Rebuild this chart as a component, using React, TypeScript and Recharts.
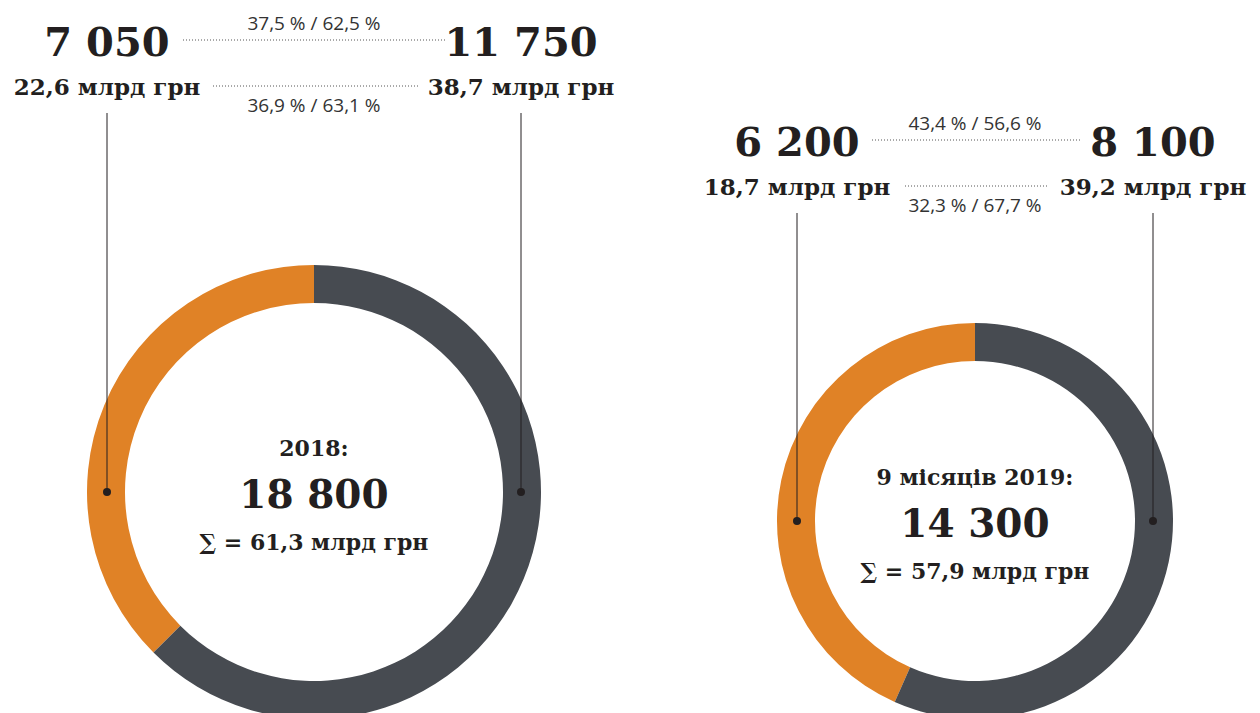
import React from 'react';
import { PieChart, Pie, Cell } from 'recharts';

const segments = ['part1', 'part2'];
const colors = ['#E08226', '#474B51'];
const periodLabels = ['2018:', '9 місяців 2019:'];
const counts2018 = [7050, 11750];
const counts2019 = [6200, 8100];
const amounts2018 = [22.6, 38.7];
const amounts2019 = [18.7, 39.2];
const amountUnit = 'млрд грн';

const W = 1260;
const H = 713;

const charts = [
  { cx: 314, cy: 492, outer: 227, inner: 189, counts: counts2018, amounts: amounts2018, label: periodLabels[0], headY: 0 },
  { cx: 975, cy: 521, outer: 198, inner: 160, counts: counts2019, amounts: amounts2019, label: periodLabels[1], headY: 100 },
];

const fmtInt = (n: number) => String(Math.round(n)).replace(/\B(?=(\d{3})+(?!\d))/g, ' ');
const fmtDec = (n: number) => n.toFixed(1).replace('.', ',');
const pct = (a: number, total: number) => fmtDec((a / total) * 100) + ' %';

const serif = "'DejaVu Serif', serif";
const sans = "'Open Sans', 'Noto Sans', sans-serif";
const ink = '#231F20';

export default function App() {
  return (
    <div style={{ position: 'absolute', left: 0, top: 0, width: W, height: H, background: '#fff' }}>
      <PieChart width={W} height={H} margin={{ top: 0, right: 0, bottom: 0, left: 0 }}>
        {charts.map((c, i) => (
          <Pie
            key={i}
            data={segments.map((s, j) => ({ name: s, value: c.counts[j] }))}
            dataKey="value"
            cx={c.cx}
            cy={c.cy}
            outerRadius={c.outer}
            innerRadius={c.inner}
            startAngle={90}
            endAngle={450}
            stroke="none"
            isAnimationActive={false}
          >
            {segments.map((s, j) => (
              <Cell key={s} fill={colors[j]} />
            ))}
          </Pie>
        ))}
      </PieChart>
      <svg width={W} height={H} style={{ position: 'absolute', left: 0, top: 0, pointerEvents: 'none' }}>
        {charts.map((c, i) => {
          const mid = (c.outer + c.inner) / 2;
          const xl = c.cx - mid + 1;
          const xr = c.cx + mid - 1;
          const y0 = c.headY;
          const totalCount = c.counts[0] + c.counts[1];
          const totalAmount = c.amounts[0] + c.amounts[1];
          const midX = (xl + xr) / 2;
          return (
            <g key={i}>
              {/* vertical leaders */}
              <line x1={xl} y1={y0 + 113} x2={xl} y2={c.cy} stroke={ink} strokeWidth={1} />
              <line x1={xr} y1={y0 + 113} x2={xr} y2={c.cy} stroke={ink} strokeWidth={1} />
              <circle cx={xl} cy={c.cy} r={4} fill={ink} />
              <circle cx={xr} cy={c.cy} r={4} fill={ink} />
              {/* counts */}
              <text x={xl} y={y0 + 56} textAnchor="middle" fontFamily={serif} fontWeight="bold" fontSize={40} fill={ink}>
                {fmtInt(c.counts[0])}
              </text>
              <text x={xr} y={y0 + 56} textAnchor="middle" fontFamily={serif} fontWeight="bold" fontSize={40} fill={ink}>
                {fmtInt(c.counts[1])}
              </text>
              {/* amounts */}
              <text x={xl} y={y0 + 95} textAnchor="middle" fontFamily={serif} fontWeight="bold" fontSize={23} fill={ink}>
                {fmtDec(c.amounts[0]) + ' ' + amountUnit}
              </text>
              <text x={xr} y={y0 + 95} textAnchor="middle" fontFamily={serif} fontWeight="bold" fontSize={23} fill={ink}>
                {fmtDec(c.amounts[1]) + ' ' + amountUnit}
              </text>
              {/* percent labels */}
              <text x={midX} y={y0 + 30} textAnchor="middle" fontFamily={sans} fontSize={19} fill="#333">
                {pct(c.counts[0], totalCount) + ' / ' + pct(c.counts[1], totalCount)}
              </text>
              <text x={midX} y={y0 + 112} textAnchor="middle" fontFamily={sans} fontSize={19} fill="#333">
                {pct(c.amounts[0], totalAmount) + ' / ' + pct(c.amounts[1], totalAmount)}
              </text>
              {/* dotted connectors */}
              <line x1={i === 0 ? 183 : 872} y1={y0 + 40} x2={i === 0 ? 447 : 1080} y2={y0 + 40} stroke="#555" strokeWidth={1} strokeDasharray="1 2" />
              <line x1={i === 0 ? 213 : 905} y1={y0 + 86} x2={i === 0 ? 418 : 1047} y2={y0 + 86} stroke="#555" strokeWidth={1} strokeDasharray="1 2" />
              {/* center labels */}
              <text x={c.cx} y={c.cy - 36} textAnchor="middle" fontFamily={serif} fontWeight="bold" fontSize={22} fill={ink}>
                {c.label}
              </text>
              <text x={c.cx} y={c.cy + 16} textAnchor="middle" fontFamily={serif} fontWeight="bold" fontSize={39} fill={ink}>
                {fmtInt(totalCount)}
              </text>
              <text x={c.cx} y={c.cy + 58} textAnchor="middle" fontFamily={serif} fontWeight="bold" fontSize={22} fill={ink}>
                {'∑ = ' + fmtDec(totalAmount) + ' ' + amountUnit}
              </text>
            </g>
          );
        })}
      </svg>
    </div>
  );
}
